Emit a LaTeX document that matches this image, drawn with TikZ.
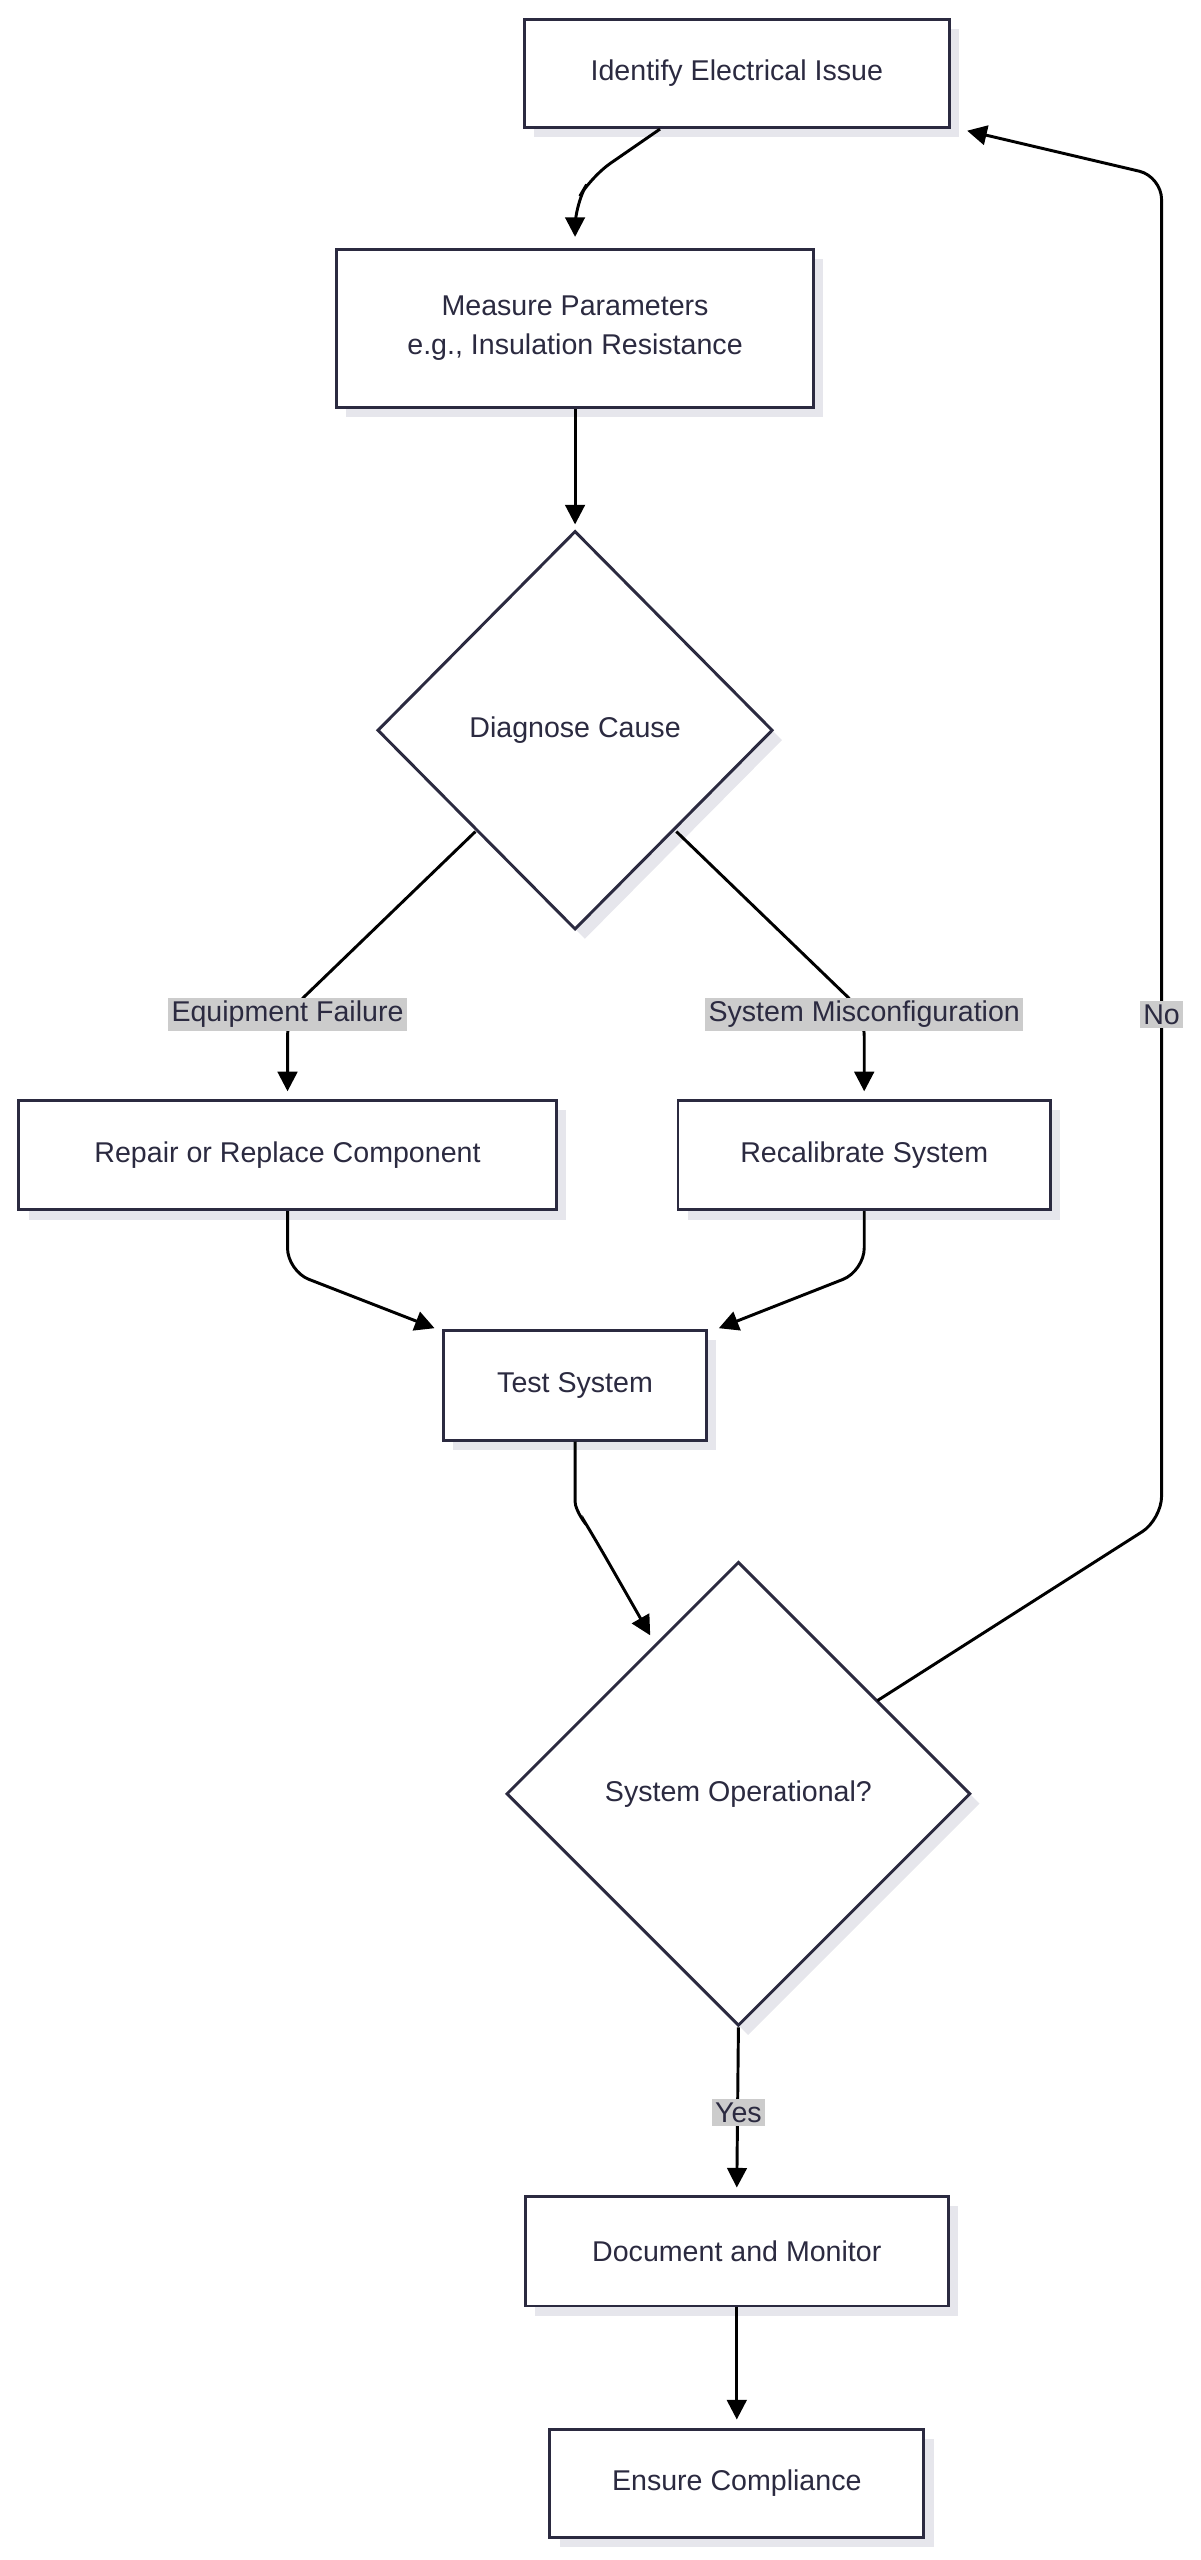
\documentclass[tikz,border=0pt]{standalone}
\usepackage{fontspec}
\setmainfont{Liberation Sans}
\usetikzlibrary{shapes.geometric,arrows.meta,shadows}
\definecolor{ink}{HTML}{2B2A40}
\definecolor{shad}{HTML}{E6E6EC}
\definecolor{lab}{HTML}{CCCCCC}
\begin{document}
\begin{tikzpicture}[x=1pt,y=-1pt,
  font=\fontsize{17.5}{24}\selectfont,
  base/.style={draw=ink,line width=1.8pt,text=ink,fill=white,
     general shadow={fill=shad,shadow xshift=6pt,shadow yshift=-6pt}},
  box/.style={base,rectangle,inner sep=0pt,align=center},
  dia/.style={base,diamond,inner sep=0pt,aspect=1},
  edge/.style={draw=black,line width=1.8pt,rounded corners=14pt,-{Triangle[length=12pt,width=12pt]}},
  lbl/.style={fill=lab,text=ink,inner sep=2pt}]
\useasboundingbox (0,0) rectangle (735,1567);
% nodes
\node[box,minimum width=260pt,minimum height=66pt] (a) at (451,45) {Identify Electrical Issue};
\node[box,minimum width=292pt,minimum height=97pt] (b) at (352,201) {Measure Parameters\\e.g., Insulation Resistance};
\node[dia,minimum width=242pt,minimum height=244pt] (c) at (352,447) {Diagnose Cause};
\node[box,minimum width=329pt,minimum height=67pt] (d) at (176,707) {Repair or Replace Component};
\node[box,minimum width=228pt,minimum height=67pt] (e) at (529,707) {Recalibrate System};
\node[box,minimum width=161pt,minimum height=67pt] (f) at (352,848) {Test System};
\node[dia,minimum width=284pt,minimum height=284pt] (g) at (452,1098) {System Operational?};
\node[box,minimum width=259pt,minimum height=67pt] (h) at (451,1378) {Document and Monitor};
\node[box,minimum width=229pt,minimum height=66pt] (i) at (451,1520) {Ensure Compliance};
% coordinates
\coordinate (a1) at (404,79);
\coordinate (c1) at (291,509);
\coordinate (c2) at (414,509);
\coordinate (g1) at (537,1041);
\coordinate (a2) at (590,82);
% edges
\draw[edge] (a1) -- (362,108) -- (352,125) -- (352,145);
\draw[edge] (b.south) -- (352,321);
\draw[edge] (c1) -- (176,620) -- (176,668);
\draw[edge] (c2) -- (529,620) -- (529,668);
\draw[edge] (d.south) -- (176,778) -- (266,813);
\draw[edge] (e.south) -- (529,778) -- (440,813);
\draw[edge] (f.south) -- (352,905) .. controls (352,925) and (360,935) .. (366,945) -- (398,1001);
\draw[edge] (g1) -- (711,930) -- (711,108) -- (592,80);
\draw[edge] (g.south) -- (451,1339);
\draw[edge] (h.south) -- (451,1481);
% labels
\node[lbl] (l1) at (176,621) {Equipment Failure};
\node[lbl] (l2) at (529,621) {System Misconfiguration};
\node[lbl] (l3) at (711,621) {No};
\node[lbl] (l4) at (452,1293) {Yes};
\end{tikzpicture}
\end{document}
